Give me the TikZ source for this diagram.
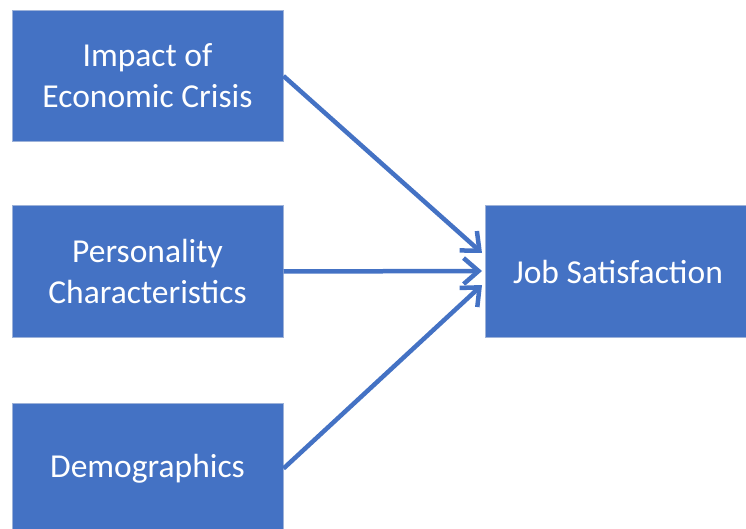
\documentclass[tikz,border=0pt]{standalone}
\usepackage{fontspec}
\setmainfont{Carlito}
\usetikzlibrary{arrows.meta}
\definecolor{boxblue}{HTML}{4472C4}
\definecolor{boxedge}{HTML}{9DB2D9}
\begin{document}
\begin{tikzpicture}[x=1pt,y=-1pt,
  factor/.style={draw=boxedge, line width=1pt, fill=boxblue, text=white,
    minimum width=271pt, minimum height=131pt, inner sep=0pt,
    align=center, font=\fontsize{33.5}{41}\selectfont},
  arr/.style={draw=boxblue, line width=4.5pt,
    -{Straight Barb[length=15pt,width=26pt,line width=4.5pt]}}]
\useasboundingbox (0,0) rectangle (746,529);
\begin{scope}
\clip (0,0) rectangle (746,529);
\node[factor] (imp) at (147.5,76) {Impact of\\Economic Crisis};
\node[factor] (per) at (147.5,271.5) {Personality\\Characteristics};
\node[factor] (dem) at (147.5,468.5) {Demographics};
\node[factor, minimum width=266pt] (job) at (618,271.5) {Job Satisfaction};
\coordinate (tipA) at (482,253);
\coordinate (tipB) at (482,271);
\coordinate (tipC) at (482,285);
\draw[arr] (imp.east) -- (tipA);
\draw[arr] (per.east) -- (tipB);
\draw[arr] (dem.east) -- (tipC);
\end{scope}
\end{tikzpicture}
\end{document}
